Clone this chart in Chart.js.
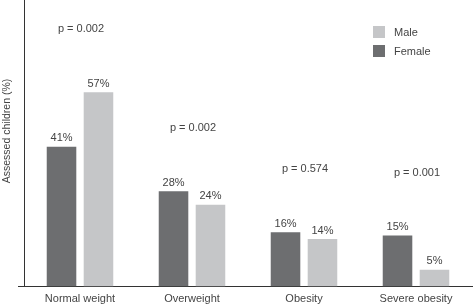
<!DOCTYPE html>
<html>
<head>
<meta charset="utf-8">
<script src="https://cdn.jsdelivr.net/npm/chart.js@4.4.1/dist/chart.umd.min.js"></script>
<style>
html,body{margin:0;padding:0;background:#fff;}
#wrap{position:relative;width:473px;height:306px;}
</style>
</head>
<body>
<div id="wrap"><canvas id="c"></canvas></div>
<script>
const categories = ['Normal weight', 'Overweight', 'Obesity', 'Severe obesity'];
const femaleValues = [41, 28, 16, 15];
const maleValues = [57, 24, 14, 5];
const pValues = ['p = 0.002', 'p = 0.002', 'p = 0.574', 'p = 0.001'];
const seriesNames = ['Female', 'Male'];
const yTitle = 'Assessed children (%)';

const FONT = '"Liberation Sans", Arial, Helvetica, sans-serif';
const TEXT = '#444';
const FEMALE_COLOR = '#6d6e70';
const MALE_COLOR = '#c5c6c8';

const labelPlugin = {
  id: 'labels',
  afterDatasetsDraw(chart) {
    const ctx = chart.ctx;
    const yScale = chart.scales.y;
    const xScale = chart.scales.x;
    ctx.save();
    ctx.font = '11px ' + FONT;
    ctx.fillStyle = TEXT;
    ctx.textAlign = 'center';
    ctx.textBaseline = 'bottom';
    chart.data.datasets.forEach((ds, di) => {
      const meta = chart.getDatasetMeta(di);
      meta.data.forEach((bar, i) => {
        ctx.fillText(ds.data[i] + '%', bar.x, bar.y - 3);
      });
    });
    // p-values
    ctx.textBaseline = 'middle';
    categories.forEach((c, i) => {
      const m = Math.max(femaleValues[i], maleValues[i]);
      const x = xScale.getPixelForValue(i) + 1;
      const y = yScale.getPixelForValue(m) - 63;
      ctx.fillText(pValues[i], x, y);
    });
    // legend (Male first, Female second)
    const items = [[seriesNames[1], MALE_COLOR], [seriesNames[0], FEMALE_COLOR]];
    ctx.textAlign = 'left';
    items.forEach((it, k) => {
      const y = 26 + k * 19;
      ctx.fillStyle = it[1];
      ctx.fillRect(373, y, 12, 12);
      ctx.fillStyle = TEXT;
      ctx.fillText(it[0], 394, y + 6.5);
    });
    // y-axis title
    ctx.translate(7, 131);
    ctx.rotate(-Math.PI / 2);
    ctx.textAlign = 'center';
    ctx.textBaseline = 'middle';
    ctx.font = '10.5px ' + FONT;
    ctx.fillText(yTitle, 0, 0);
    ctx.restore();
  }
};

new Chart(document.getElementById('c'), {
  type: 'bar',
  data: {
    labels: categories,
    datasets: [
      { label: seriesNames[0], data: femaleValues, backgroundColor: FEMALE_COLOR },
      { label: seriesNames[1], data: maleValues, backgroundColor: MALE_COLOR }
    ]
  },
  options: {
    responsive: true,
    maintainAspectRatio: false,
    animation: false,
    devicePixelRatio: 1,
    layout: { padding: { left: 0, right: 1, top: 0, bottom: -6 } },
    datasets: { bar: { categoryPercentage: 0.66, barPercentage: 0.8 } },
    plugins: { legend: { display: false }, tooltip: { enabled: false } },
    scales: {
      x: {
        grid: { display: false, drawTicks: false },
        border: { display: true, color: '#333', width: 1 },
        ticks: { color: TEXT, font: { family: FONT, size: 11 }, padding: 6 }
      },
      y: {
        min: 0,
        max: 84,
        afterBuildTicks(scale) { scale.ticks = [{ value: 0 }]; },
        afterFit(scale) { scale.width = 24; },
        grid: { display: true, drawOnChartArea: false, drawTicks: true, tickLength: 6, color: '#333' },
        border: { display: true, color: '#333', width: 1 },
        ticks: { display: false }
      }
    }
  },
  plugins: [labelPlugin]
});
</script>
</body>
</html>
